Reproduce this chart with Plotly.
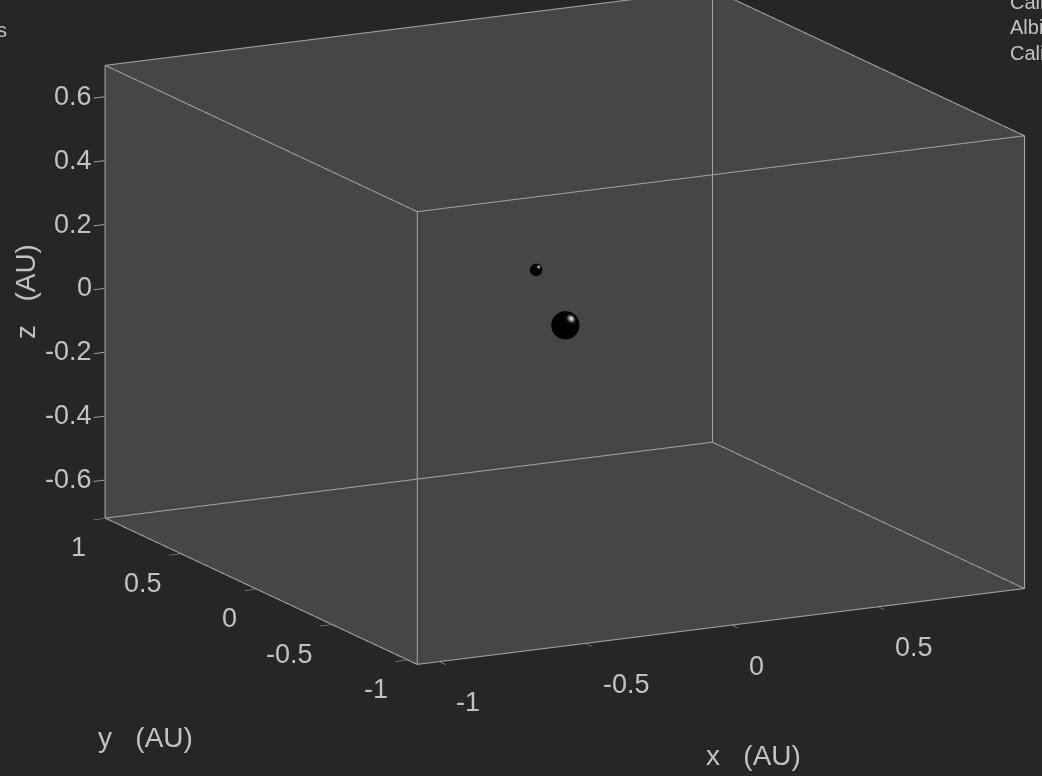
import numpy as np
import plotly.graph_objects as go

# ---- data ----
x_range = [-1.08, 1.0]
y_range = [-1.07, 1.0]
z_range = [-0.72, 0.70]
x_ticks = [-1, -0.5, 0, 0.5]
x_ticktext = ["-1", "-0.5", "0", "0.5"]
y_ticks = [-1, -0.5, 0, 0.5, 1]
y_ticktext = ["-1", "-0.5", "0", "0.5", "1"]
z_ticks = [-0.6, -0.4, -0.2, 0, 0.2, 0.4, 0.6]
z_ticktext = ["-0.6", "-0.4", "-0.2", "0", "0.2", "0.4", "0.6"]
axis_titles = ["x   (AU)", "y   (AU)", "z   (AU)"]

body_names = ["Central body", "Companion"]
body_x = [-0.02, -0.12]
body_y = [0.0, 0.0]
body_z = [-0.015, 0.17]
body_r = [0.043, 0.019]

label_lines = ["Callisto", "Albiorix", "Caliban"]
title_text = "Moons"

BG = "#262626"
WALL = "#464646"
EDGE = "#a4a4a4"
TXT = "#c2c2c2"
FONT = "Liberation Sans, Arial, sans-serif"
TICK_SIZE = 27
TITLE_SIZE = 28

fig = go.Figure()

# shading direction for the sphere highlight (unit vector in data space)
hl = np.array([0.083, -0.754, 0.652])
hl = hl / np.linalg.norm(hl)

# spheres (mesh built around each body's centre / radius)
nu, nv = 48, 30
for name, cx, cy, cz, r in zip(body_names, body_x, body_y, body_z, body_r):
    th = np.linspace(0, 2 * np.pi, nu, endpoint=False)
    ph = np.linspace(0, np.pi, nv)
    TH, PH = np.meshgrid(th, ph)
    nx = (np.cos(TH) * np.sin(PH)).ravel()
    ny = (np.sin(TH) * np.sin(PH)).ravel()
    nz = np.cos(PH).ravel()
    shade = np.clip(nx * hl[0] + ny * hl[1] + nz * hl[2], 0, 1) ** 14
    I, J, K = [], [], []
    for a in range(nv - 1):
        for b in range(nu):
            p00 = a * nu + b
            p01 = a * nu + (b + 1) % nu
            p10 = (a + 1) * nu + b
            p11 = (a + 1) * nu + (b + 1) % nu
            I += [p00, p01]; J += [p10, p10]; K += [p01, p11]
    fig.add_trace(go.Mesh3d(
        x=cx + r * nx, y=cy + r * ny, z=cz + r * nz, i=I, j=J, k=K, name=name,
        intensity=shade, intensitymode="vertex", cmin=0, cmax=1,
        colorscale=[[0, "#000000"], [0.35, "#0a0a0a"], [0.7, "#6a6a6a"], [1, "#e6e6e6"]],
        showscale=False, flatshading=False,
        lighting=dict(ambient=1.0, diffuse=0.0, specular=0.0, roughness=1.0, fresnel=0.0),
        hoverinfo="skip"))

# box outline (12 edges) built from the axis ranges (nudged a hair inside so it is not clipped)
x0, x1 = x_range
y0, y1 = y_range
z0, z1 = z_range
ex_ = 1e-3
bx0, bx1 = x0 + ex_ * (x1 - x0), x1 - ex_ * (x1 - x0)
by0, by1 = y0 + ex_ * (y1 - y0), y1 - ex_ * (y1 - y0)
bz0, bz1 = z0 + ex_ * (z1 - z0), z1 - ex_ * (z1 - z0)
corners = [(bx0, by0), (bx1, by0), (bx1, by1), (bx0, by1)]
ex, ey, ez = [], [], []
for zz in (bz0, bz1):
    for (a, b) in corners + [corners[0]]:
        ex.append(a); ey.append(b); ez.append(zz)
    ex.append(None); ey.append(None); ez.append(None)
for (a, b) in corners:
    ex += [a, a, None]; ey += [b, b, None]; ez += [bz0, bz1, None]
fig.add_trace(go.Scatter3d(x=ex, y=ey, z=ez, mode="lines",
                           line=dict(color=EDGE, width=2),
                           hoverinfo="skip", showlegend=False))

def axis(rng, tv):
    return dict(
        range=rng, autorange=False,
        tickvals=tv, showticklabels=False,
        ticks="outside", ticklen=12, tickcolor="#a0a0a0", tickwidth=2,
        title=dict(text=""),
        showgrid=False, zeroline=False,
        showline=False, mirror=False,
        showbackground=True, backgroundcolor=WALL,
        showspikes=False,
    )

# tick labels and axis titles as scene annotations
tick_font = dict(family=FONT, size=TICK_SIZE, color=TXT)
title_font = dict(family=FONT, size=TITLE_SIZE, color=TXT)
scene_ann = []
for v, t in zip(x_ticks, x_ticktext):
    scene_ann.append(dict(x=v, y=y0, z=z0, text=t, showarrow=False, xanchor="left", yanchor="middle",
                          xshift=14, yshift=-40, font=tick_font))
for v, t in zip(y_ticks, y_ticktext):
    scene_ann.append(dict(x=x0, y=v, z=z0, text=t, showarrow=False, xanchor="right", yanchor="top",
                          xshift=-16, yshift=-12, font=tick_font))
for v, t in zip(z_ticks, z_ticktext):
    scene_ann.append(dict(x=x0, y=y1, z=v, text=t, showarrow=False, xanchor="right", yanchor="middle",
                          xshift=-10, yshift=1, font=tick_font))
scene_ann.append(dict(x=(x0 + x1) / 2, y=y0, z=z0, text=axis_titles[0], showarrow=False,
                      xanchor="center", yanchor="middle", xshift=32, yshift=-128, font=title_font))
scene_ann.append(dict(x=x0, y=(y0 + y1) / 2, z=z0, text=axis_titles[1], showarrow=False,
                      xanchor="center", yanchor="middle", xshift=-115, yshift=-146, font=title_font))
scene_ann.append(dict(x=x0, y=y1, z=(z0 + z1) / 2, text=axis_titles[2], showarrow=False,
                      xanchor="center", yanchor="middle", xshift=-79, yshift=0, textangle=-90,
                      font=title_font))

xr = x1 - x0
ZOOM = 1.765
cen = dict(x=-0.121, y=0.012, z=-0.151)
D = 2.5
eye_dir = (-0.445, -0.862, 0.242)
fig.update_layout(
    width=1042, height=776,
    paper_bgcolor=BG, plot_bgcolor=BG,
    margin=dict(l=0, r=0, t=0, b=0),
    showlegend=False,
    font=dict(family=FONT, color=TXT),
    scene=dict(
        domain=dict(x=[0, 1], y=[0, 1]),
        bgcolor=BG,
        xaxis=axis(x_range, x_ticks),
        yaxis=axis(y_range, y_ticks),
        zaxis=axis(z_range, z_ticks),
        aspectmode="manual",
        aspectratio=dict(x=ZOOM, y=ZOOM * (y1 - y0) / xr, z=ZOOM * (z1 - z0) / xr),
        annotations=scene_ann,
        camera=dict(
            projection=dict(type="orthographic"),
            center=cen,
            eye=dict(x=cen["x"] + D * eye_dir[0], y=cen["y"] + D * eye_dir[1], z=cen["z"] + D * eye_dir[2]),
            up=dict(x=0, y=0, z=1),
        ),
    ),
)

annotations = []
for i, t in enumerate(label_lines):
    annotations.append(dict(text=t, xref="paper", yref="paper", x=1008 / 1042, y=1 - (2 + 25.5 * i) / 776,
                            xanchor="left", yanchor="middle", showarrow=False,
                            font=dict(family=FONT, size=20, color=TXT)))
annotations.append(dict(text=title_text, xref="paper", yref="paper", x=9 / 1042, y=1 - 30 / 776,
                        xanchor="right", yanchor="middle", showarrow=False,
                        font=dict(family=FONT, size=20, color=TXT)))
fig.update_layout(annotations=annotations)

fig.write_html("out.html")
